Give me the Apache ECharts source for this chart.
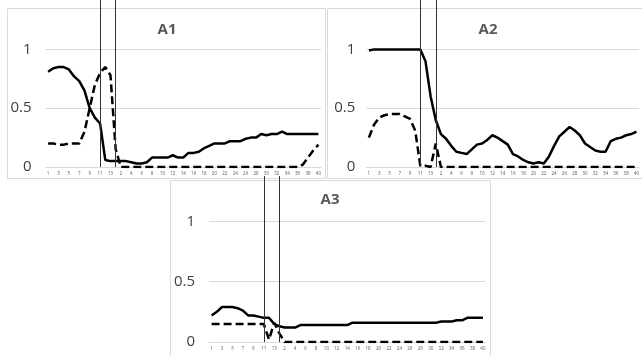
<!DOCTYPE html>
<html>
<head>
<meta charset="utf-8">
<script src="https://cdn.jsdelivr.net/npm/echarts@6/dist/echarts.min.js"></script>
<style>
  html, body { margin: 0; padding: 0; background: #fff; }
  #chart { width: 642px; height: 356px; }
</style>
</head>
<body>
<div id="chart"></div>
<script>
// x categories: 13 steps of the first phase, then 40 of the second
const categories = [
  '1','2','3','4','5','6','7','8','9','10','11','12','13',
  '1','2','3','4','5','6','7','8','9','10','11','12','13','14','15','16','17','18','19','20',
  '21','22','23','24','25','26','27','28','29','30','31','32','33','34','35','36','37','38','39','40'
];
const panelNames = ['A1', 'A2', 'A3'];
const phaseMarks = [10, 13];   // category index of the two vertical lines

const a1Solid = [0.81,0.84,0.85,0.85,0.83,0.77,0.73,0.65,0.5,0.42,0.37,0.06,0.05,0.05,0.05,0.05,0.04,0.03,0.03,0.04,
  0.08,0.08,0.08,0.08,0.1,0.08,0.08,0.12,0.12,0.13,0.16,0.18,0.2,0.2,0.2,0.22,0.22,0.22,0.24,0.25,
  0.25,0.28,0.27,0.28,0.28,0.3,0.28,0.28,0.28,0.28,0.28,0.28,0.28];
const a1Dashed = [0.2,0.2,0.19,0.19,0.2,0.2,0.2,0.3,0.5,0.7,0.8,0.85,0.78,0.15,
  0,0,0,0,0,0,0,0,0,0,0,0,0,0,0,0,0,0,0,0,0,0,0,0,0,0,0,0,0,0,0,0,0,0,0,
  0.02,0.08,0.14,0.19];

const a2Solid = [0.99,1,1,1,1,1,1,1,1,1,1,0.9,0.6,0.4,0.28,0.24,0.18,0.13,0.12,0.11,
  0.15,0.19,0.2,0.23,0.27,0.25,0.22,0.19,0.11,0.09,0.06,0.04,0.03,0.04,0.03,0.09,0.18,0.26,0.3,0.34,
  0.31,0.27,0.2,0.17,0.14,0.13,0.13,0.22,0.24,0.25,0.27,0.28,0.3];
const a2Dashed = [0.25,0.36,0.42,0.44,0.45,0.45,0.45,0.43,0.41,0.31,0.01,0.01,0,0.2,
  0,0,0,0,0,0,0,0,0,0,0,0,0,0,0,0,0,0,0,0,0,0,0,0,0,0,0,0,0,0,0,0,0,0,0,0,0,0,0];

const a3Solid = [0.22,0.25,0.29,0.29,0.29,0.28,0.26,0.22,0.22,0.21,0.2,0.2,0.15,0.13,0.12,0.12,0.12,0.14,
  0.14,0.14,0.14,0.14,0.14,0.14,0.14,0.14,0.14,
  0.16,0.16,0.16,0.16,0.16,0.16,0.16,0.16,0.16,0.16,0.16,0.16,0.16,0.16,0.16,0.16,0.16,
  0.17,0.17,0.17,0.18,0.18,0.2,0.2,0.2,0.2];
const a3Dashed = [0.15,0.15,0.15,0.15,0.15,0.15,0.15,0.15,0.15,0.15,0.15,0.02,0.16,0.07,
  0,0,0,0,0,0,0,0,0,0,0,0,0,0,0,0,0,0,0,0,0,0,0,0,0,0,0,0,0,0,0,0,0,0,0,0,0,0,0];

const solids = [a1Solid, a2Solid, a3Solid];
const dashes = [a1Dashed, a2Dashed, a3Dashed];

// panel layout: grid box, y max so that 1.0 lands where it does, label margin
const panels = [
  { grid: { left: 45.5, top: 0, width: 275.5, height: 167 }, yMax: 1.42, lm: 14, title: [162, 17], box: [7.5, 8.5, 318, 170] },
  { grid: { left: 366.3, top: 0, width: 275.5, height: 167 }, yMax: 1.42, lm: 11, title: [483, 17], box: [327.5, 8.5, 320, 170] },
  { grid: { left: 209, top: 176, width: 276.5, height: 166 }, yMax: 1.375, lm: 14, title: [325, 187], box: [170.5, 180.5, 320, 180] }
];

const gridLine = '#d9d9d9';
const option = {
  animation: false,
  backgroundColor: '#fff',
  textStyle: { fontFamily: 'Open Sans, sans-serif' },
  title: panels.map((p, i) => ({
    text: panelNames[i],
    left: p.title[0], top: p.title[1], textAlign: 'center',
    textStyle: { fontSize: 15, fontWeight: 'bold', color: '#595959', fontFamily: 'Open Sans' }
  })),
  graphic: panels.map(p => ({
    type: 'rect', silent: true, z: -10,
    shape: { x: p.box[0], y: p.box[1], width: p.box[2], height: p.box[3] },
    style: { fill: 'none', stroke: gridLine, lineWidth: 1 }
  })),
  grid: panels.map(p => p.grid),
  xAxis: panels.map((p, i) => ({
    type: 'category', gridIndex: i, data: categories, boundaryGap: true,
    axisLine: { lineStyle: { color: gridLine, width: 1 } },
    axisTick: { show: false },
    axisLabel: { interval: 1, fontSize: 4.5, color: '#595959', margin: 4 }
  })),
  yAxis: panels.map((p, i) => ({
    type: 'value', gridIndex: i, min: 0, max: p.yMax, interval: 0.5,
    axisLine: { show: false }, axisTick: { show: false },
    splitLine: { lineStyle: { color: [gridLine, gridLine, gridLine, 'rgba(0,0,0,0)'], width: 1 } },
    axisLabel: {
      showMaxLabel: false, fontSize: 15, color: '#404040', margin: p.lm,
      formatter: v => (v > 1.01 ? '' : String(v))
    }
  })),
  series: []
};

panels.forEach((p, i) => {
  option.series.push({
    type: 'line', xAxisIndex: i, yAxisIndex: i, data: solids[i],
    symbol: 'none', lineStyle: { color: '#000', width: 2.5 },
    markLine: {
      silent: true, symbol: 'none', label: { show: false },
      lineStyle: { color: '#333', width: 1, type: 'solid' },
      data: phaseMarks.map(m => ({ xAxis: m }))
    }
  });
  option.series.push({
    type: 'line', xAxisIndex: i, yAxisIndex: i, data: dashes[i],
    symbol: 'none', lineStyle: { color: '#000', width: 2.5, type: [8, 4] }
  });
});

const chart = echarts.init(document.getElementById('chart'));
chart.setOption(option);
</script>
</body>
</html>
